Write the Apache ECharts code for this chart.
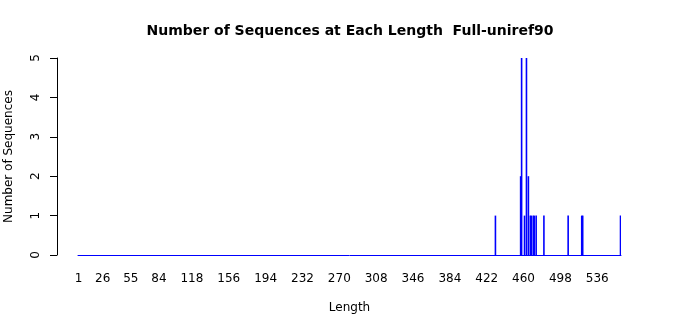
<!DOCTYPE html>
<html>
<head>
<meta charset="utf-8">
<script src="https://cdn.jsdelivr.net/npm/echarts@6/dist/echarts.min.js"></script>
<style>html,body{margin:0;padding:0;background:#fff}#c{width:700px;height:315px}</style>
</head>
<body>
<div id="c"></div>
<script>
// Data: sequence lengths that occur, and how many sequences have each length
const maxLength = 560;
const lengths = [431, 457, 458, 461, 463, 465, 467, 468, 470, 471, 473, 481, 506, 520, 521, 560];
const counts  = [1,   2,   5,   1,   5,   2,   1,   1,   1,   1,   1,   1,   1,   1,   1,   1];
const xTickLabels = [1, 26, 55, 84, 118, 156, 194, 232, 270, 308, 346, 384, 422, 460, 498, 536];
const yTicks = [0, 1, 2, 3, 4, 5];

const categories = [];
const values = [];
for (let L = 1; L <= maxLength; L++) {
  categories.push(String(L));
  const k = lengths.indexOf(L);
  values.push(k >= 0 ? counts[k] : 0);
}

const font = 'DejaVu Sans';
const chart = echarts.init(document.getElementById('c'), null, {renderer: 'canvas'});
chart.setOption({
  animation: false,
  backgroundColor: '#ffffff',
  title: {
    text: 'Number of Sequences at Each Length  Full-uniref90',
    left: 'center', top: 19,
    textStyle: {fontFamily: font, fontSize: 14, fontWeight: 'bold', color: '#000'}
  },
  grid: {left: 78, right: 79, top: 58, bottom: 60, containLabel: false, outerBoundsMode: 'none'},
  xAxis: {
    type: 'category',
    data: categories,
    boundaryGap: true,
    name: 'Length',
    nameLocation: 'middle',
    nameGap: 47,
    nameTextStyle: {fontFamily: font, fontSize: 12, color: '#000'},
    axisLine: {show: true, lineStyle: {color: '#0000ff', width: 1}},
    axisTick: {show: false},
    axisLabel: {
      interval: (idx, val) => xTickLabels.includes(Number(val)),
      margin: 18,
      fontFamily: font, fontSize: 12, color: '#000'
    },
    splitLine: {show: false}
  },
  yAxis: {
    type: 'value',
    min: yTicks[0], max: yTicks[yTicks.length - 1], interval: 1,
    offset: 21,
    name: 'Number of Sequences',
    nameLocation: 'middle',
    nameGap: 42,
    nameRotate: 90,
    nameTextStyle: {fontFamily: font, fontSize: 12, color: '#000'},
    axisLine: {show: true, lineStyle: {color: '#000', width: 1}},
    axisTick: {show: true, inside: false, length: 7, lineStyle: {color: '#000'}},
    axisLabel: {
      rotate: 90, margin: 15,
      fontFamily: font, fontSize: 12, color: '#000'
    },
    splitLine: {show: false}
  },
  series: [{
    type: 'bar',
    data: values,
    barWidth: 1.6,
    itemStyle: {color: '#0000ff'}
  }]
});
</script>
</body>
</html>
